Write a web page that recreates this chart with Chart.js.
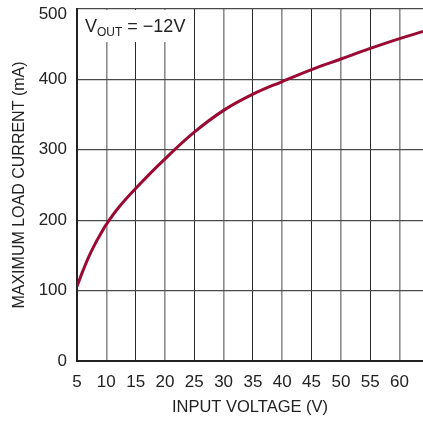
<!DOCTYPE html>
<html>
<head>
<meta charset="utf-8">
<script src="https://cdn.jsdelivr.net/npm/chart.js@4.4.1/dist/chart.umd.min.js"></script>
<style>
  html, body { margin: 0; padding: 0; background: #fff; }
  #wrap { width: 423px; height: 422px; }
</style>
</head>
<body>
<div id="wrap"><canvas id="c" width="423" height="422"></canvas></div>
<script>
// Data
const inputVoltage = [5, 6, 7, 8, 9, 10, 12, 15, 20, 25, 30, 35, 40, 45, 50, 55, 60, 64];
const maxLoadCurrent = [106, 128, 148, 165, 180, 194, 217, 245, 287, 325, 356, 379, 397, 414, 429, 444, 458, 468];
const xTickValues = [5, 10, 15, 20, 25, 30, 35, 40, 45, 50, 55, 60];
const yTickValues = [0, 100, 200, 300, 400, 500];
const xTitle = 'INPUT VOLTAGE (V)';
const yTitle = 'MAXIMUM LOAD CURRENT (mA)';

const FONT = "'Liberation Sans', Arial, sans-serif";
const LINE_COLOR = '#9a0a33';
const TICK_SIZE = 17;

const labelBox = {
  id: 'labelBox',
  afterDraw(chart) {
    const ctx = chart.ctx;
    const a = chart.chartArea;
    const yScale = chart.scales.y;
    ctx.save();
    // top tick label, nudged down so it stays inside the canvas (as in the reference)
    const topVal = yTickValues[yTickValues.length - 1];
    ctx.fillStyle = '#222';
    ctx.font = TICK_SIZE + 'px ' + FONT;
    ctx.textAlign = 'right';
    ctx.textBaseline = 'middle';
    ctx.fillText(String(topVal), a.left - 10, yScale.getPixelForValue(topVal) + 5);

    ctx.fillStyle = '#fff';
    ctx.fillRect(a.left + 2, a.top + 1, 106, 32);
    ctx.fillStyle = '#222';
    ctx.textBaseline = 'alphabetic';
    ctx.textAlign = 'left';
    let x = a.left + 8;
    const base = a.top + 23;
    ctx.font = '18px ' + FONT;
    ctx.fillText('V', x, base);
    x += ctx.measureText('V').width;
    ctx.font = '12px ' + FONT;
    ctx.fillText('OUT', x, base + 4);
    x += ctx.measureText('OUT').width;
    ctx.font = '18px ' + FONT;
    ctx.fillText(' = \u221212V', x, base);
    ctx.restore();
  }
};

new Chart(document.getElementById('c'), {
  type: 'line',
  data: {
    datasets: [{
      data: inputVoltage.map((v, i) => ({ x: v, y: maxLoadCurrent[i] })),
      borderColor: LINE_COLOR,
      borderWidth: 3,
      pointRadius: 0,
      tension: 0.4,
      fill: false
    }]
  },
  options: {
    responsive: false,
    animation: false,
    layout: { padding: 0 },
    plugins: { legend: { display: false }, tooltip: { enabled: false } },
    scales: {
      x: {
        type: 'linear',
        min: 5,
        max: 64,
        afterFit(s) { s.height = 61; s.paddingRight = 0; },
        afterBuildTicks(s) { s.ticks = xTickValues.map(v => ({ value: v })); },
        ticks: {
          includeBounds: false,
          autoSkip: false,
          maxRotation: 0,
          padding: 11,
          color: '#222',
          font: { family: FONT, size: TICK_SIZE }
        },
        grid: {
          drawTicks: false,
          color: (c) => (c.index % 2 === 1 ? '#8c8c8c' : '#2a2a2a'),
          lineWidth: (c) => (c.index % 2 === 1 ? 1.6 : 1)
        },
        border: { color: '#222', width: 2 },
        title: {
          display: true,
          text: xTitle,
          color: '#222',
          font: { family: FONT, size: 16.5 },
          padding: { top: 0, bottom: 5 }
        }
      },
      y: {
        min: 0,
        max: 500,
        afterFit(s) { s.width = 77; s.paddingTop = 9; s.paddingBottom = 0; },
        afterBuildTicks(s) { s.ticks = yTickValues.map(v => ({ value: v })); },
        ticks: {
          padding: 10,
          color: '#222',
          font: { family: FONT, size: TICK_SIZE },
          callback: (v) => (v === yTickValues[yTickValues.length - 1] ? '' : String(v))
        },
        grid: { drawTicks: false, color: '#4a4a4a', lineWidth: 1.3 },
        border: { color: '#222', width: 2 },
        title: {
          display: true,
          text: yTitle,
          color: '#222',
          font: { family: FONT, size: 16 },
          padding: { top: 10, bottom: 0 }
        }
      }
    }
  },
  plugins: [labelBox]
});
</script>
</body>
</html>
